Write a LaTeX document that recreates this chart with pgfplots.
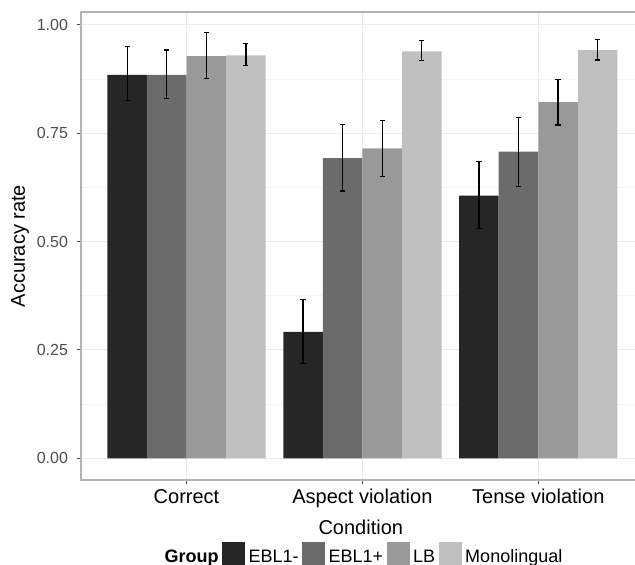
\documentclass[border=0pt]{standalone}
\usepackage{pgfplots}
\pgfplotsset{compat=1.18}
\usepackage{pgfplotstable}
\usepackage{fontspec}
\setmainfont{Liberation Sans}
\definecolor{cA}{HTML}{262626}
\definecolor{cB}{HTML}{6B6B6B}
\definecolor{cC}{HTML}{999999}
\definecolor{cD}{HTML}{BFBFBF}
\definecolor{gridmaj}{HTML}{EBEBEB}
\definecolor{gridmin}{HTML}{F5F5F5}
\definecolor{border}{HTML}{B3B3B3}
\definecolor{ticktxt}{HTML}{4D4D4D}
\pgfplotstableread{
x y ep em
0 0.885 0.065 0.060
1 0.292 0.075 0.073
2 0.606 0.079 0.075
}\ebla
\pgfplotstableread{
x y ep em
0 0.885 0.057 0.054
1 0.693 0.078 0.076
2 0.708 0.079 0.080
}\eblb
\pgfplotstableread{
x y ep em
0 0.928 0.055 0.052
1 0.715 0.065 0.065
2 0.822 0.053 0.053
}\lb
\pgfplotstableread{
x y ep em
0 0.930 0.028 0.024
1 0.939 0.026 0.021
2 0.942 0.024 0.023
}\mono
\begin{document}
\begin{tikzpicture}
\begin{axis}[
  name=ax,
  scale only axis,
  width=277pt, height=234pt,
  xmin=-0.6, xmax=2.55,
  ymin=-0.05, ymax=1.03,
  ybar=0pt, bar width=0.225,
  xtick={0,1,2},
  xticklabels={Correct,Aspect violation,Tense violation},
  ytick={0,0.25,0.5,0.75,1},
  yticklabels={0.00,0.25,0.50,0.75,1.00},
  minor ytick={0.125,0.375,0.625,0.875},
  grid=both,
  major grid style={color=gridmaj, line width=0.5pt},
  minor grid style={color=gridmin, line width=0.4pt},
  axis line style={draw=none},
  xtick pos=bottom, ytick pos=left,
  tick align=outside,
  major tick length=2pt,
  minor tick length=0pt,
  tick style={color=ticktxt, line width=0.5pt},
  /pgf/number format/assume math mode=true,
  x tick label style={font=\fontsize{10}{12}\selectfont, text=black, yshift=1pt},
  y tick label style={font=\fontsize{8}{10}\selectfont, text=ticktxt, xshift=-1pt},
  xlabel={Condition},
  ylabel={Accuracy rate},
  label style={font=\fontsize{10}{12}\selectfont},
  xlabel style={at={(axis description cs:0.505,-0.1004)}, anchor=center},
  ylabel style={at={(axis description cs:-0.110,0.5)}, anchor=center},
  error bars/y dir=both,
  error bars/y explicit,
  error bars/error mark=-,
  error bars/error bar style={draw=black, line width=0.65pt},
  error bars/error mark options={rotate=90, draw=black, line width=0.65pt, mark size=1.3pt},
  legend columns=-1,
  legend style={at={(axis description cs:0.509,-0.160)}, anchor=center,
    draw=none, fill=none, font=\fontsize{9}{11}\selectfont,
    nodes={inner sep=1.2pt, text height=1.6ex, text depth=0.3ex},
    column sep=0.5pt,
    /tikz/every even column/.append style={column sep=0.6pt}},
  legend image code/.code={\fill[#1] (0pt,-4.5pt) rectangle (11.5pt,7pt);},
]
\addlegendimage{empty legend}
\addlegendentry{\textbf{Group}}
\addplot[fill=cA, draw=none] table[x=x, y=y, y error plus=ep, y error minus=em] {\ebla};
\addlegendentry{EBL1-}
\addplot[fill=cB, draw=none] table[x=x, y=y, y error plus=ep, y error minus=em] {\eblb};
\addlegendentry{EBL1+}
\addplot[fill=cC, draw=none] table[x=x, y=y, y error plus=ep, y error minus=em] {\lb};
\addlegendentry{LB}
\addplot[fill=cD, draw=none] table[x=x, y=y, y error plus=ep, y error minus=em] {\mono};
\addlegendentry{Monolingual}
\end{axis}
\draw[border, line width=0.6pt] (ax.north east) -- (ax.north west) -- (ax.south west) -- (ax.south east);
\pgfresetboundingbox
\path[use as bounding box] ([xshift=-40.5pt, yshift=-42.5pt]ax.south west) rectangle ([yshift=6pt]ax.north east);
\end{tikzpicture}
\end{document}
